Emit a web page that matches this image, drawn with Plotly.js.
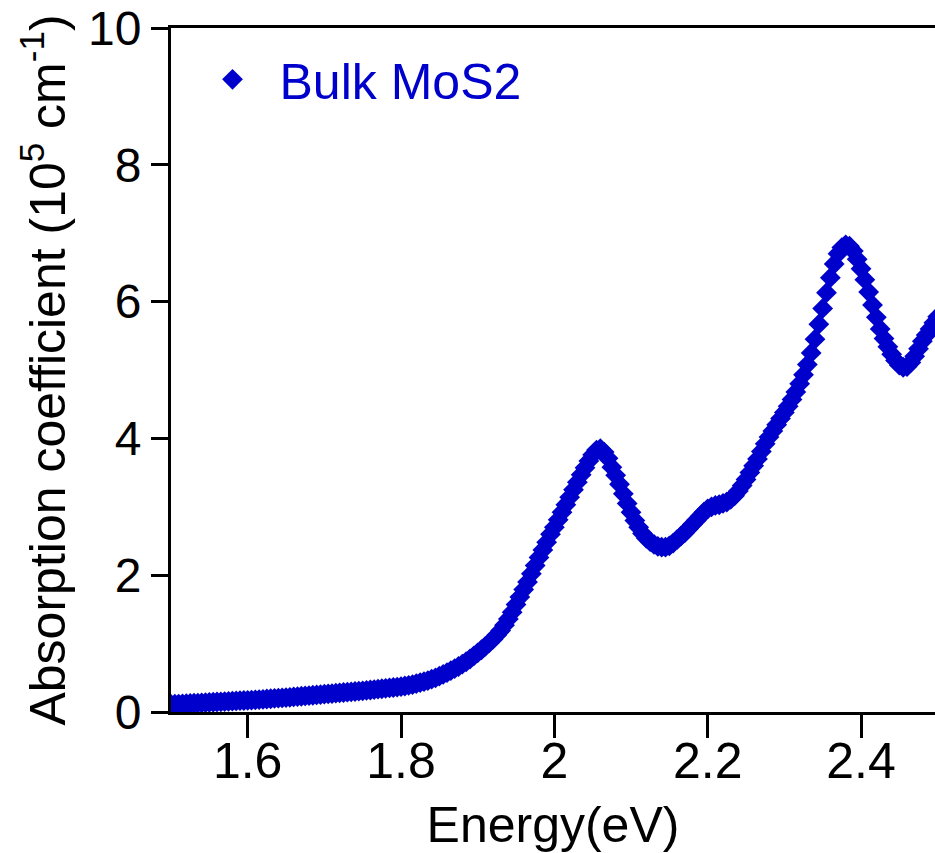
<!DOCTYPE html>
<html>
<head>
<meta charset="utf-8">
<script src="https://cdn.plot.ly/plotly-3.0.1.min.js"></script>
<style>
html, body { margin: 0; padding: 0; background: #fff; overflow: hidden; }
#chart { width: 935px; height: 853px; }
</style>
</head>
<body>
<div id="chart"></div>
<script>
// Photon energy (eV), sampled every 0.005 eV from 1.500 to 2.500
const energyStart = 1.5;
const energyStep = 0.005;

// Absorption coefficient (10^5 cm^-1)
const absorption = [
  0.110, 0.113, 0.116, 0.119, 0.122, 0.125, 0.128, 0.131, 0.134, 0.137,
  0.140, 0.143, 0.146, 0.149, 0.152, 0.155, 0.159, 0.162, 0.166, 0.168,
  0.170, 0.174, 0.178, 0.182, 0.186, 0.190, 0.194, 0.198, 0.202, 0.206,
  0.210, 0.215, 0.220, 0.225, 0.230, 0.235, 0.240, 0.245, 0.250, 0.255,
  0.260, 0.265, 0.270, 0.275, 0.280, 0.285, 0.290, 0.295, 0.300, 0.305,
  0.310, 0.316, 0.322, 0.328, 0.334, 0.340, 0.346, 0.352, 0.358, 0.364,
  0.370, 0.380, 0.390, 0.400, 0.415, 0.430, 0.445, 0.460, 0.480, 0.500,
  0.525, 0.550, 0.575, 0.605, 0.635, 0.665, 0.700, 0.735, 0.775, 0.820,
  0.865, 0.910, 0.960, 1.010, 1.065, 1.125, 1.190, 1.270, 1.360, 1.460,
  1.570, 1.680, 1.790, 1.900, 2.020, 2.140, 2.260, 2.370, 2.480, 2.600,
  2.700, 2.810, 2.920, 3.030, 3.140, 3.250, 3.360, 3.470, 3.570, 3.670,
  3.760, 3.830, 3.850, 3.800, 3.710, 3.580, 3.460, 3.330, 3.190, 3.050,
  2.920, 2.800, 2.700, 2.610, 2.540, 2.490, 2.450, 2.420, 2.410, 2.410,
  2.430, 2.470, 2.520, 2.570, 2.620, 2.680, 2.740, 2.800, 2.860, 2.920,
  2.970, 3.000, 3.020, 3.030, 3.050, 3.070, 3.110, 3.160, 3.230, 3.310,
  3.400, 3.500, 3.600, 3.700, 3.810, 3.920, 4.020, 4.110, 4.200, 4.290,
  4.380, 4.470, 4.570, 4.680, 4.800, 4.930, 5.080, 5.250, 5.450, 5.670,
  5.900, 6.130, 6.350, 6.550, 6.700, 6.790, 6.830, 6.810, 6.740, 6.620,
  6.480, 6.320, 6.140, 5.950, 5.770, 5.600, 5.460, 5.340, 5.230, 5.140,
  5.070, 5.040, 5.050, 5.110, 5.200, 5.310, 5.420, 5.510, 5.600, 5.690,
  5.780
];
const energy = absorption.map((_, i) => +(energyStart + i * energyStep).toFixed(3));

const seriesName = 'Bulk MoS2';
const xTickVals = [1.6, 1.8, 2.0, 2.2, 2.4];
const xTickText = ['1.6', '1.8', '2', '2.2', '2.4'];
const yTickVals = [0, 2, 4, 6, 8, 10];
const yTickText = ['0', '2', '4', '6', '8', '10'];

const blue = '#0000CC';
const font = 'Liberation Sans, Arial, Helvetica, sans-serif';

const trace = {
  x: energy,
  y: absorption,
  type: 'scatter',
  mode: 'markers',
  name: seriesName,
  marker: { symbol: 'diamond', size: 16, color: blue, line: { width: 0 } }
};

const layout = {
  width: 935,
  height: 853,
  margin: { l: 171, r: 0, t: 28, b: 141, pad: 0 },
  paper_bgcolor: '#fff',
  plot_bgcolor: '#fff',
  font: { family: font, color: '#000', size: 48 },
  showlegend: true,
  legend: {
    x: 0.019, y: 0.982, xanchor: 'left', yanchor: 'top',
    font: { family: font, size: 50, color: blue },
    itemwidth: 84,
    bgcolor: 'rgba(0,0,0,0)',
    borderwidth: 0
  },
  xaxis: {
    range: [1.5, 2.4965],
    tickmode: 'array',
    tickvals: xTickVals,
    ticktext: xTickText,
    ticks: 'outside',
    ticklen: 23,
    tickwidth: 3,
    tickcolor: '#000',
    ticklabelstandoff: -20,
    showline: true,
    linewidth: 3,
    linecolor: '#000',
    mirror: true,
    showgrid: false,
    zeroline: false,
    tickfont: { family: font, size: 50, color: '#000' },
    title: { text: 'Energy(eV)', font: { family: font, size: 50, color: '#000' }, standoff: 24 },
    automargin: false
  },
  yaxis: {
    range: [0, 10],
    tickmode: 'array',
    tickvals: yTickVals,
    ticktext: yTickText,
    ticks: 'outside',
    ticklen: 17,
    tickwidth: 3,
    tickcolor: '#000',
    showline: true,
    linewidth: 3,
    linecolor: '#000',
    mirror: false,
    showgrid: false,
    zeroline: false,
    tickfont: { family: font, size: 48, color: '#000' },
    title: { text: 'Absorption coefficient (10<sup>5</sup> cm<sup>-1</sup>)', font: { family: font, size: 50, color: '#000' }, standoff: 7 },
    automargin: false
  }
};

Plotly.newPlot('chart', [trace], layout, { staticPlot: true, displayModeBar: false });
</script>
</body>
</html>
